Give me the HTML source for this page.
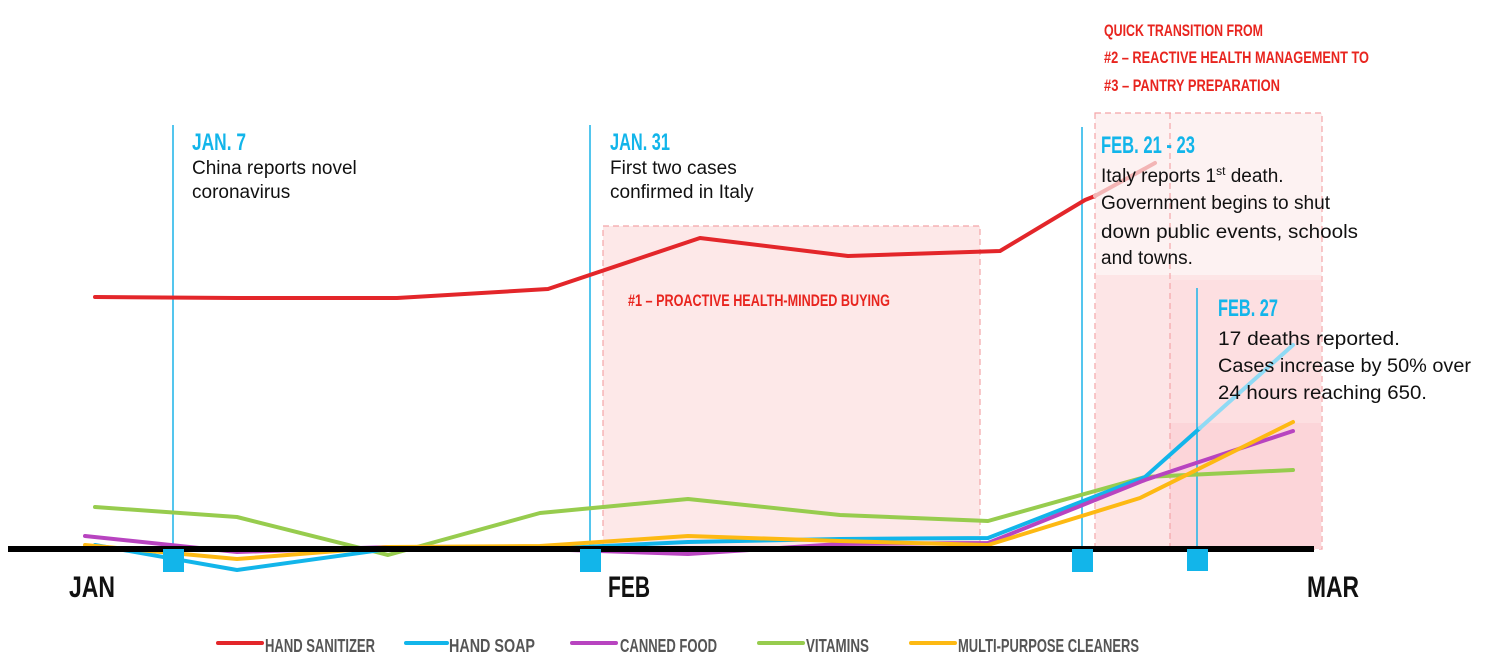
<!DOCTYPE html>
<html><head><meta charset="utf-8"><style>
html,body{margin:0;padding:0;background:#fff;}
svg{display:block;}
.c{font-family:"Liberation Sans Narrow","Liberation Sans",sans-serif;font-weight:bold;}
.b{font-family:"Liberation Sans","DejaVu Sans",sans-serif;font-size:19px;fill:#111;}
</style></head><body>
<svg width="1500" height="663" viewBox="0 0 1500 663" xmlns="http://www.w3.org/2000/svg">
<rect x="603" y="226" width="377" height="323" fill="#fde8e8" stroke="#f4a5a8" stroke-dasharray="6,4" stroke-width="1.2"/>
<rect x="1095" y="113" width="227" height="436" fill="#fdf2f2" stroke="#f4a5a8" stroke-dasharray="6,4" stroke-width="1.2"/>
<rect x="1096" y="275" width="225" height="274" fill="#fde5e6"/>
<rect x="1170" y="280" width="151" height="269" fill="#fddfe1"/>
<rect x="1170" y="423" width="151" height="126" fill="#fcd5d9"/>
<line x1="1170" y1="113" x2="1170" y2="549" stroke="#f4a5a8" stroke-dasharray="6,4" stroke-width="1.2"/>
<g stroke="#1cb3e8" stroke-width="1.5">
<line x1="173" y1="125" x2="173" y2="549"/>
<line x1="590" y1="125" x2="590" y2="549"/>
<line x1="1082" y1="127" x2="1082" y2="549"/>
<line x1="1197" y1="288" x2="1197" y2="549"/>
</g>
<g fill="none" stroke-width="4" stroke-linejoin="round" stroke-linecap="round">
<polyline stroke="#e3262a" points="95,297 237,298 397,298 548,289 700,238 848,256 1000,251 1085,200 1095,196"/>
<polyline stroke="#f3b5b5" points="1095,196 1155,163"/>
<polyline stroke="#97cc4e" points="95,507 237,517 388,555 540,513 688,499 840,515 988,521 1145,477 1293,470"/>
<polyline stroke="#12b5ea" points="95,545 237,570 388,549 540,549 688,542 840,539 988,538 1145,477 1200,428"/>
<polyline stroke="#8fdaf4" points="1200,428 1293,345"/>
<polyline stroke="#b844c0" points="85,536 237,552 388,547 540,549 688,554 840,544 988,543 1145,480 1190,465 1293,431"/>
<polyline stroke="#fdb913" points="85,545 237,559 388,547 540,546 688,536 840,541 988,545 1140,498 1293,422"/>
</g>
<line x1="8" y1="549" x2="1314" y2="549" stroke="#000" stroke-width="6"/>
<g fill="#12b5ea">
<rect x="163" y="549" width="21" height="23"/>
<rect x="580" y="549" width="21" height="23"/>
<rect x="1072" y="549" width="21" height="23"/>
<rect x="1187" y="549" width="21" height="22"/>
</g>
<g class="c" font-size="30" fill="#111">
<text x="69" y="597" textLength="46" lengthAdjust="spacingAndGlyphs">JAN</text>
<text x="608" y="597" textLength="42" lengthAdjust="spacingAndGlyphs">FEB</text>
<text x="1307" y="597" textLength="52" lengthAdjust="spacingAndGlyphs">MAR</text>
</g>
<g class="c" font-size="24" fill="#12b5ea">
<text x="192" y="150" textLength="54" lengthAdjust="spacingAndGlyphs">JAN. 7</text>
<text x="610" y="150" textLength="60" lengthAdjust="spacingAndGlyphs">JAN. 31</text>
<text x="1101" y="153" textLength="94" lengthAdjust="spacingAndGlyphs">FEB. 21 - 23</text>
<text x="1218" y="316" textLength="60" lengthAdjust="spacingAndGlyphs">FEB. 27</text>
</g>
<g class="b">
<text x="192" y="174">China reports novel</text>
<text x="192" y="198">coronavirus</text>
<text x="610" y="174">First two cases</text>
<text x="610" y="198">confirmed in Italy</text>
<text x="1101" y="182">Italy reports 1<tspan font-size="12" dy="-7">st</tspan><tspan dy="7"> death.</tspan></text>
<text x="1101" y="209" textLength="229" lengthAdjust="spacingAndGlyphs">Government begins to shut</text>
<text x="1101" y="238" textLength="257" lengthAdjust="spacingAndGlyphs">down public events, schools</text>
<text x="1101" y="264">and towns.</text>
<text x="1218" y="345" textLength="182" lengthAdjust="spacingAndGlyphs">17 deaths reported.</text>
<text x="1218" y="372" textLength="253" lengthAdjust="spacingAndGlyphs">Cases increase by 50% over</text>
<text x="1218" y="399" textLength="209" lengthAdjust="spacingAndGlyphs">24 hours reaching 650.</text>
</g>
<g class="c" font-size="17" fill="#e8251f">
<text x="628" y="306" textLength="262" lengthAdjust="spacingAndGlyphs">#1 – PROACTIVE HEALTH-MINDED BUYING</text>
<text x="1104" y="36" textLength="159" lengthAdjust="spacingAndGlyphs">QUICK TRANSITION FROM</text>
<text x="1104" y="63" textLength="265" lengthAdjust="spacingAndGlyphs">#2 – REACTIVE  HEALTH MANAGEMENT TO</text>
<text x="1104" y="91" textLength="176" lengthAdjust="spacingAndGlyphs">#3 – PANTRY PREPARATION</text>
</g>
<g stroke-width="4" stroke-linecap="round">
<line x1="218" y1="643" x2="262" y2="643" stroke="#e3262a"/>
<line x1="406" y1="643" x2="447" y2="643" stroke="#12b5ea"/>
<line x1="572" y1="643" x2="616" y2="643" stroke="#b844c0"/>
<line x1="759" y1="643" x2="803" y2="643" stroke="#97cc4e"/>
<line x1="911" y1="643" x2="955" y2="643" stroke="#fdb913"/>
</g>
<g class="c" font-size="18" fill="#555">
<text x="265" y="652" textLength="110" lengthAdjust="spacingAndGlyphs">HAND SANITIZER</text>
<text x="449" y="652" textLength="86" lengthAdjust="spacingAndGlyphs">HAND SOAP</text>
<text x="620" y="652" textLength="97" lengthAdjust="spacingAndGlyphs">CANNED FOOD</text>
<text x="806" y="652" textLength="63" lengthAdjust="spacingAndGlyphs">VITAMINS</text>
<text x="958" y="652" textLength="181" lengthAdjust="spacingAndGlyphs">MULTI-PURPOSE CLEANERS</text>
</g>
</svg>
</body></html>
